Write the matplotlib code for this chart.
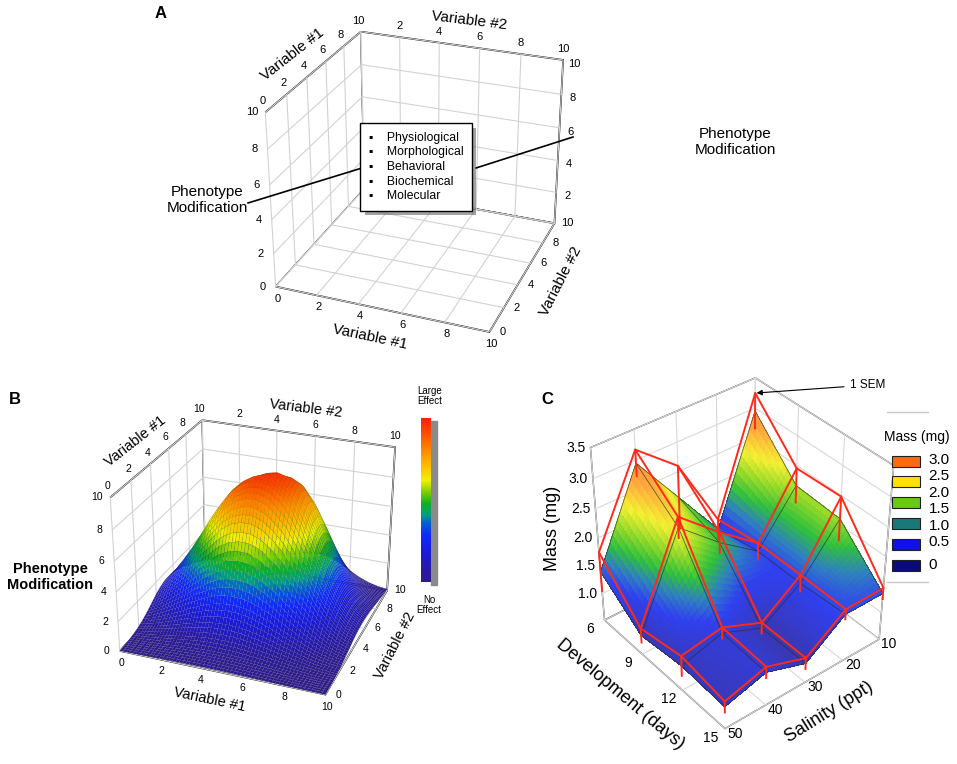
import numpy as np
import matplotlib
matplotlib.use("Agg")
import matplotlib.pyplot as plt
import matplotlib.patheffects as pe
from matplotlib.colors import LinearSegmentedColormap, Normalize
from matplotlib.cm import ScalarMappable
from matplotlib.patches import Rectangle

plt.rcParams['font.family'] = ['Liberation Sans', 'DejaVu Sans']

# ---------------- data ----------------
var_ticks = [0, 2, 4, 6, 8, 10]
traits = ["Physiological", "Morphological", "Behavioral", "Biochemical", "Molecular"]

# panel B: the effect surface is read as a main hump plus a smaller shoulder
# towards the back-right, each given by its profile along the two variables
var_grid = np.arange(21) * 0.5
main_var1 = [0.17, 0.25, 0.35, 0.46, 0.58, 0.71, 0.82, 0.92, 0.98, 1.00, 0.98,
             0.92, 0.82, 0.71, 0.58, 0.46, 0.35, 0.25, 0.17, 0.11, 0.07]
main_var2 = [0.01, 0.03, 0.05, 0.10, 0.18, 0.29, 0.44, 0.61, 0.78, 0.91, 0.99,
             0.99, 0.95, 0.86, 0.75, 0.62, 0.49, 0.37, 0.27, 0.18, 0.12]
shoulder_var1 = [0.00, 0.00, 0.00, 0.00, 0.00, 0.00, 0.01, 0.03, 0.07, 0.17, 0.35,
                 0.58, 0.82, 0.98, 0.98, 0.82, 0.58, 0.35, 0.17, 0.07, 0.03]
shoulder_var2 = [0.00, 0.00, 0.00, 0.01, 0.02, 0.03, 0.07, 0.12, 0.21, 0.33, 0.47,
                 0.64, 0.80, 0.93, 0.99, 0.99, 0.91, 0.77, 0.61, 0.44, 0.30]
main_height = 9.0
shoulder_height = 3.5

# panel C: mass (mg), rows = development (days), cols = salinity (ppt)
development = [6, 9, 12, 15]
salinity = [10, 20, 30, 40, 50]
mass = [[2.95, 1.15, 2.05, 2.95, 1.40],
        [2.15, 1.30, 1.80, 2.40, 0.85],
        [2.10, 1.30, 0.85, 1.15, 0.95],
        [1.35, 1.35, 0.85, 1.10, 0.90]]
sem = [[0.30, 0.18, 0.55, 0.22, 0.35],
       [0.30, 0.15, 0.18, 0.18, 0.13],
       [0.38, 0.15, 0.10, 0.10, 0.18],
       [0.10, 0.09, 0.10, 0.10, 0.10]]
mass_ticks = [1.0, 1.5, 2.0, 2.5, 3.0, 3.5]
legend_labels = ["3.0", "2.5", "2.0", "1.5", "1.0", "0.5", "0"]
legend_colors = ["#ff6a10", "#ffe000", "#66cc10", "#1a7878", "#1010e8", "#0a0a7a"]

cmap_b = LinearSegmentedColormap.from_list("effect", [
    (0.0, "#2e1a8a"), (0.06, "#2a1aa0"), (0.18, "#1a1ad8"), (0.28, "#1028ff"),
    (0.36, "#0060d0"), (0.41, "#00a080"), (0.48, "#10b020"), (0.55, "#80d000"),
    (0.62, "#f0f000"), (0.70, "#ffc000"), (0.80, "#ff8c00"), (0.90, "#ff5000"),
    (1.0, "#ff2000")])
cmap_c = LinearSegmentedColormap.from_list("mass", [
    (0.0, "#34349a"), (0.133, "#3838b8"), (0.267, "#3040f0"), (0.35, "#2f80c0"),
    (0.433, "#30c03c"), (0.52, "#90d82a"), (0.62, "#f4f032"), (0.74, "#ffa83e"),
    (0.85, "#ff8a38"), (1.0, "#ff6a28")])

W, H = 957, 764
fig = plt.figure(figsize=(W / 100, H / 100), dpi=100)


def px_rect(cx, cy, side):
    return [(cx - side / 2) / W, 1 - (cy + side / 2) / H, side / W, side / H]


def make_box(rect, lims, ticks, elev, azim, aspect, zoom, focal,
             edge="black", lw=1.2, grid="#d2d2d2", **kw):
    ax = fig.add_axes(rect, projection="3d", **kw)
    ax.set_proj_type("persp", focal_length=focal)
    ax.view_init(elev=elev, azim=azim)
    ax.set_box_aspect(aspect, zoom=zoom)
    ax.patch.set_alpha(0)
    ax.set_xlim(*lims[0]); ax.set_ylim(*lims[1]); ax.set_zlim(*lims[2])
    ax.set_xticks(ticks[0]); ax.set_yticks(ticks[1]); ax.set_zticks(ticks[2])
    ax.set_xticklabels([]); ax.set_yticklabels([]); ax.set_zticklabels([])
    for axis in (ax.xaxis, ax.yaxis, ax.zaxis):
        axis.set_pane_color((1, 1, 1, 1))
        axis.pane.set_edgecolor(edge)
        axis.pane.set_linewidth(lw)
        axis.line.set_color((0, 0, 0, 0))
        axis._axinfo["tick"]["inward_factor"] = 0
        axis._axinfo["tick"]["outward_factor"] = 0
        axis._axinfo["grid"]["color"] = grid
        axis._axinfo["grid"]["linewidth"] = 0.8
    return ax


def put(ax, xyz, s, dx=0, dy=0, **kw):
    # anchor a 2D label on a projected 3D point, shifted in pixels
    v = ax.get_proj() @ np.array([xyz[0], xyz[1], xyz[2], 1.0])
    kw.setdefault("ha", "center")
    kw.setdefault("va", "center")
    return ax.annotate(s, xy=(v[0] / v[3], v[1] / v[3]), xytext=(dx, dy),
                       textcoords="offset pixels", annotation_clip=False, **kw)


def box_labels(ax, tick_fs, lab_fs, right_ticks=True):
    for v in var_ticks:
        put(ax, (v, 0, 0), str(v), 2, -12, fontsize=tick_fs)
        put(ax, (10, v, 0), str(v), 13, 0, fontsize=tick_fs)
        put(ax, (0, 0, v), str(v), -13, 0, fontsize=tick_fs)
        put(ax, (0, v, 10), str(v), -3, 11, fontsize=tick_fs)
    for v in var_ticks[1:]:
        put(ax, (v, 10, 10), str(v), 0, 11, fontsize=tick_fs)
        if right_ticks:
            put(ax, (10, 10, v), str(v), 11, -4, fontsize=tick_fs)
    put(ax, (5, 0, 0), "Variable #1", -10, -28, rotation=-12, fontsize=lab_fs)
    put(ax, (10, 5, 0), "Variable #2", 36, -7, rotation=63, fontsize=lab_fs)
    put(ax, (0, 5, 10), "Variable #1", -24, 15, rotation=38, fontsize=lab_fs)
    put(ax, (5, 10, 10), "Variable #2", 10, 25, rotation=-7, fontsize=lab_fs)


def refine(grid, n):
    # split each measured facet into n x n shading cells (bilinear patch)
    g = np.asarray(grid, float)
    r = np.linspace(0, g.shape[0] - 1, (g.shape[0] - 1) * n + 1)
    c = np.linspace(0, g.shape[1] - 1, (g.shape[1] - 1) * n + 1)
    tmp = np.array([np.interp(c, np.arange(g.shape[1]), row) for row in g])
    return np.array([np.interp(r, np.arange(g.shape[0]), col) for col in tmp.T]).T


lims_ab = [(0, 10), (0, 10), (0, 10)]
ticks_ab = [var_ticks, var_ticks, var_ticks]

# ---------------- panel A ----------------
ax_a = make_box(px_rect(415, 178, 440), lims_ab, ticks_ab, 27, -69, (1, 1, 0.85), 0.81, 0.55)
box_labels(ax_a, 8, 11)

tb = fig.text(369 / W, 1 - 167 / H, "\n".join("\u25aa    " + t for t in traits),
              ha="left", va="center", fontsize=8.8, linespacing=1.28,
              bbox=dict(boxstyle="square,pad=0.7", fc="white", ec="black", lw=1.0))
tb.get_bbox_patch().set_path_effects([
    pe.SimplePatchShadow(offset=(3, -3), shadow_rgbFace="0.4", alpha=0.6), pe.Normal()])

fig.text(207 / W, 1 - 200 / H, "Phenotype\nModification", ha="center", va="center",
         fontsize=11, linespacing=1.1)
fig.text(735 / W, 1 - 142 / H, "Phenotype\nModification", ha="center", va="center",
         fontsize=11, linespacing=1.1)
fig.add_artist(plt.Line2D([248 / W, 362 / W], [1 - 203 / H, 1 - 168 / H], color="black", lw=1.2))
fig.add_artist(plt.Line2D([476 / W, 573 / W], [1 - 168 / H, 1 - 137 / H], color="black", lw=1.2))

# ---------------- panel B ----------------
ax_b = make_box(px_rect(254, 553, 400), lims_ab, ticks_ab, 27, -69, (1, 1, 0.78), 0.835, 0.55)
Zb = (main_height * np.outer(main_var2, main_var1)
      + shoulder_height * np.outer(shoulder_var2, shoulder_var1))
Xb, Yb = np.meshgrid(var_grid, var_grid)
ax_b.plot_surface(refine(Xb, 3), refine(Yb, 3), refine(Zb, 3), rstride=1, cstride=1,
                  cmap=cmap_b, vmin=0, vmax=10, linewidth=0.25,
                  edgecolor=(0.1, 0.1, 0.1, 0.16), shade=False)
box_labels(ax_b, 7.5, 10.5, right_ticks=False)
fig.text(50 / W, 1 - 577 / H, "Phenotype\nModification", ha="center", va="center",
         fontsize=10.5, fontweight="bold", linespacing=1.15)

cax = fig.add_axes([421 / W, 1 - 582 / H, 10 / W, 164 / H])
cax.add_patch(Rectangle((1.0, -0.02), 0.55, 1.0, transform=cax.transAxes,
                        color="#8a8a8a", clip_on=False, zorder=-1))
cb = fig.colorbar(ScalarMappable(norm=Normalize(0, 10), cmap=cmap_b), cax=cax)
cb.outline.set_visible(False)
cax.set_yticks([])
fig.text(430 / W, 1 - 396 / H, "Large\nEffect", ha="center", va="center", fontsize=7,
         linespacing=0.95)
fig.text(429 / W, 1 - 605 / H, "No\nEffect", ha="center", va="center", fontsize=7,
         linespacing=0.95)

# ---------------- panel C ----------------
ax_c = make_box(px_rect(735, 553, 420), [(10, 50), (6, 15), (0.5, 3.5)],
                [salinity, development, mass_ticks], 38, 51, (1, 1, 1.07), 0.84, 0.6,
                edge="#4a4a4a", lw=1.0, grid="#d8d8d8", computed_zorder=False)
S, D = np.meshgrid(salinity, development)
M = np.array(mass)
E = np.array(sem)
ax_c.plot_surface(refine(S, 14), refine(D, 14), refine(M, 14), rstride=1, cstride=1,
                  cmap=cmap_c, vmin=0.5, vmax=3.5, linewidth=0, antialiased=False,
                  shade=False)
ax_c.plot_wireframe(S, D, M, color="#2a2a2a", linewidth=0.6, alpha=0.7)
ax_c.plot_wireframe(S, D, M + E, color="#ff2a1a", linewidth=1.4)
for i, d in enumerate(development):
    for j, s in enumerate(salinity):
        ax_c.plot([s, s], [d, d], [M[i, j] + E[i, j], M[i, j] - E[i, j]],
                  color="#ff2a1a", linewidth=1.4)

for v in mass_ticks:
    put(ax_c, (50, 6, v), f"{v:.1f}", -5, 0, ha="right", fontsize=10)
for d in development:
    put(ax_c, (50, d, 0.5), str(d), -14, -9, fontsize=10)
for s in salinity:
    put(ax_c, (s, 15, 0.5), str(s), 10, -5, fontsize=10)
put(ax_c, (50, 6, 2.0), "Mass (mg)", -45, 10, rotation=90, fontsize=13)
put(ax_c, (50, 10.5, 0.5), "Development (days)", -42, -22, rotation=-40, fontsize=13)
put(ax_c, (30, 15, 0.5), "Salinity (ppt)", 24, -30, rotation=32, fontsize=13)
put(ax_c, (salinity[0], development[0], M[0, 0] + E[0, 0]), "1 SEM", 112, 8, fontsize=8.5,
    arrowprops=dict(arrowstyle="-|>", color="black", lw=0.8, mutation_scale=8,
                    shrinkA=2, shrinkB=1))

ax_leg = fig.add_axes([880 / W, 1 - 590 / H, 77 / W, 185 / H])
ax_leg.set_xlim(0, 1)
ax_leg.set_ylim(0, 1)
ax_leg.axis("off")
ax_leg.text(0.48, 0.827, "Mass (mg)", ha="center", va="center", fontsize=10)
for i, c in enumerate(legend_colors):
    ax_leg.add_patch(Rectangle((0.156, 0.697 - i * 0.1125 - 0.03), 0.364, 0.06,
                               fc=c, ec="#202020", lw=0.8))
for i, lab in enumerate(legend_labels[:-1]):
    ax_leg.text(0.63, 0.703 - i * 0.0887, lab, ha="left", va="center", fontsize=11)
ax_leg.text(0.63, 0.697 - 5 * 0.1125, legend_labels[-1], ha="left", va="center", fontsize=11)
for yy in (0.962, 0.043):
    ax_leg.plot([0.09, 0.62], [yy, yy], color="#c8c8c8", lw=1.0)

# panel letters
for x, y, s in [(161, 14, "A"), (15, 400, "B"), (547, 400, "C")]:
    fig.text(x / W, 1 - y / H, s, ha="center", va="center", fontsize=12, fontweight="bold")

fig.savefig("out.png", dpi=100, facecolor="white")
